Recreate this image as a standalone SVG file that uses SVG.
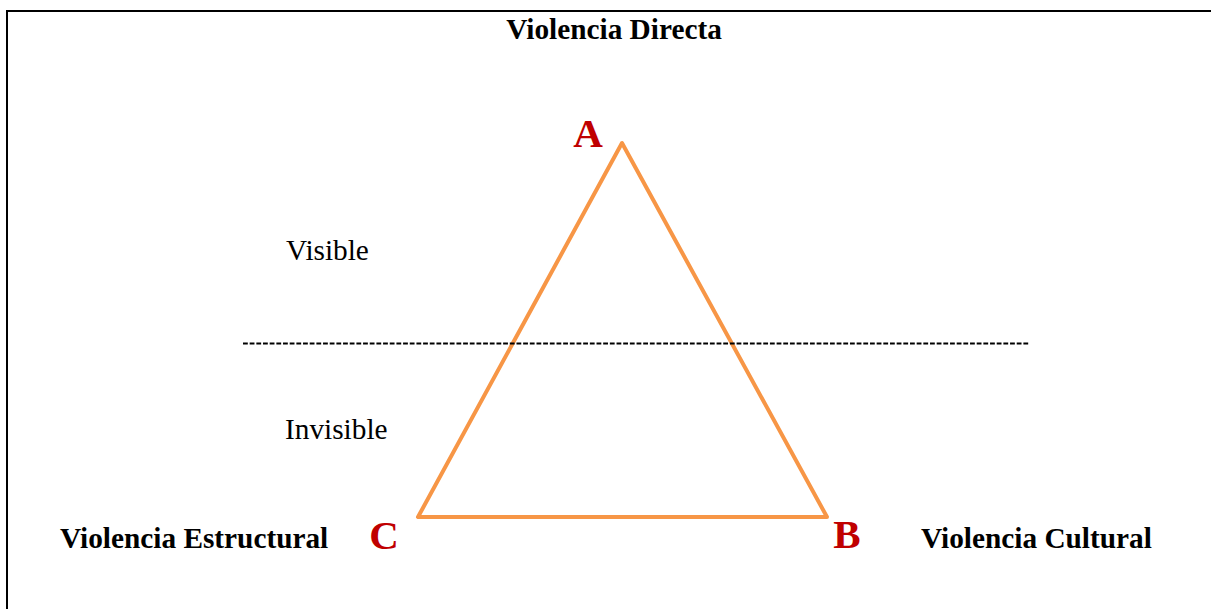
<svg xmlns="http://www.w3.org/2000/svg" width="1211" height="609" viewBox="0 0 1211 609">
<style>
.lbl{font-family:"Liberation Serif","Times New Roman",serif;font-size:29.3px;fill:#000}
.b{font-weight:bold}
.vx{font-family:"Liberation Serif","Times New Roman",serif;font-size:41px;font-weight:bold;fill:#C00000}
</style>
<rect width="1211" height="609" fill="#fff"/>
<g id="frame">
<line x1="7" y1="11" x2="1211" y2="11" stroke="#000" stroke-width="2"/>
<line x1="7" y1="10" x2="7" y2="609" stroke="#000" stroke-width="2"/>
</g>
<g id="connectors">
<polygon points="622,143 418,517 827,517" fill="none" stroke="#F79646" stroke-width="4" stroke-linejoin="round"/>
<line x1="243" y1="343.5" x2="1030" y2="343.5" stroke="#000" stroke-width="2" stroke-dasharray="4.8 1.87"/>
</g>
<g id="title"><text class="lbl b" x="614" y="39" text-anchor="middle">Violencia Directa</text></g>
<g id="visible"><text class="lbl" x="286" y="260">Visible</text></g>
<g id="invisible"><text class="lbl" x="285" y="439">Invisible</text></g>
<g id="estructural"><text class="lbl b" x="60" y="548">Violencia Estructural</text></g>
<g id="cultural"><text class="lbl b" x="921" y="548">Violencia Cultural</text></g>
<g id="nodeA"><text class="vx" x="588" y="147" text-anchor="middle">A</text></g>
<g id="nodeC"><text class="vx" x="384" y="549" text-anchor="middle">C</text></g>
<g id="nodeB"><text class="vx" x="847" y="548" text-anchor="middle">B</text></g>
</svg>
